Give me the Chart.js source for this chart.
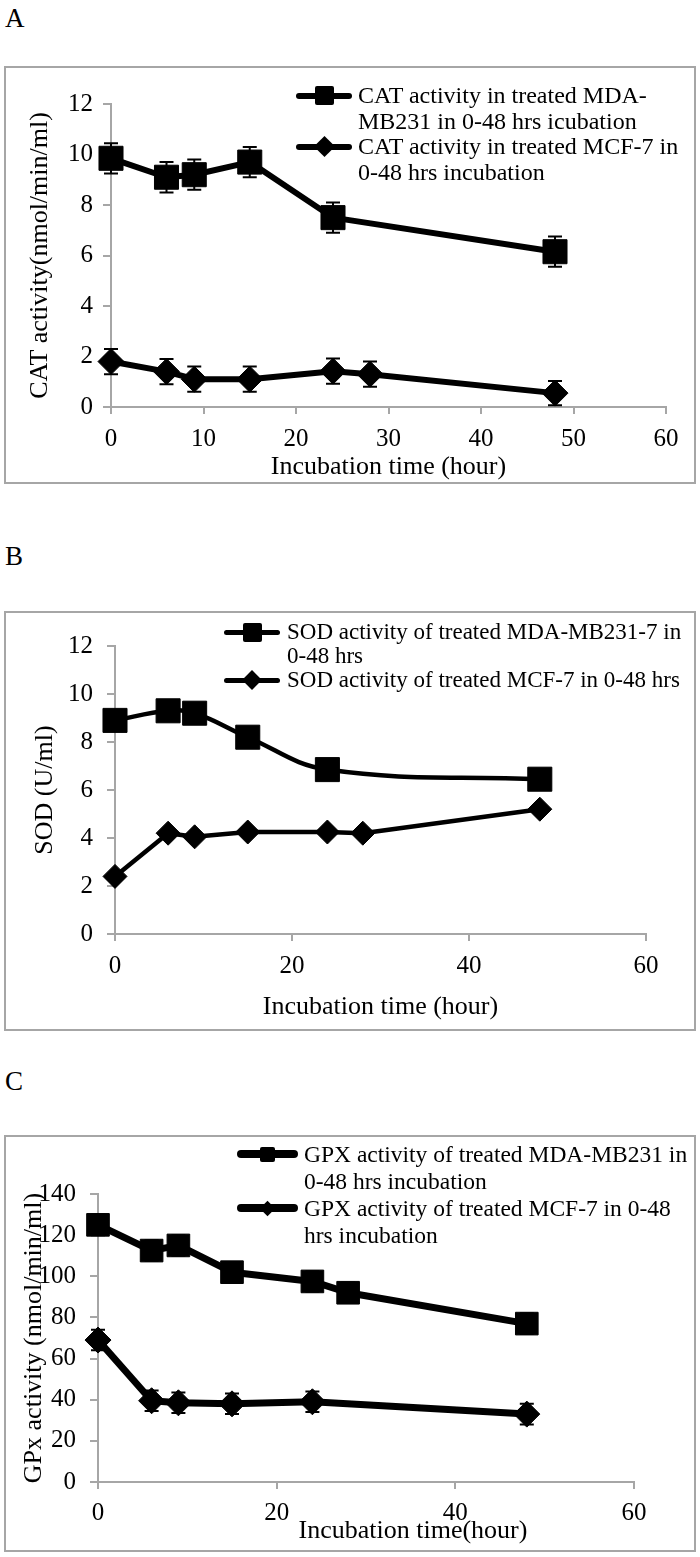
<!DOCTYPE html>
<html>
<head>
<meta charset="utf-8">
<script src="https://cdn.jsdelivr.net/npm/chart.js@4.4.0/dist/chart.umd.min.js"></script>
<style>
body{margin:0;width:700px;height:1557px;position:relative;background:#fff;overflow:hidden;
  font-family:"Liberation Serif","Times New Roman",serif;color:#000}
.letter{position:absolute;left:5px;font-size:27px;line-height:27px}
.panel{position:absolute;left:4px;width:692px;border:2px solid #A6A6A6;box-sizing:border-box}
canvas{position:absolute;left:0}
.txt{position:absolute;white-space:pre}
.mk{position:absolute;background:#000}
</style>
</head>
<body>

<div class="letter" style="top:5px">A</div>
<div class="panel" style="top:66px;height:418px"></div>
<canvas id="chartA" width="700" height="417" style="top:67px"></canvas>

<div class="letter" style="top:543px">B</div>
<div class="panel" style="top:611px;height:420px"></div>
<canvas id="chartB" width="700" height="418" style="top:612px"></canvas>

<div class="letter" style="top:1068px">C</div>
<div class="panel" style="top:1135px;height:417px"></div>
<canvas id="chartC" width="700" height="415" style="top:1136px"></canvas>
<div class="txt" id="xTitleC" style="left:413px;top:1517px;font-size:26px;line-height:26px;transform:translateX(-50%)"></div>

<script>
//data - panel A (CAT)
var catMdaHours = [0, 6, 9, 15, 24, 48];
var catMda = [9.85, 9.1, 9.2, 9.7, 7.5, 6.15];
var catMdaErr = [0.6, 0.6, 0.6, 0.6, 0.6, 0.6];
var catMcfHours = [0, 6, 9, 15, 24, 28, 48];
var catMcf = [1.8, 1.4, 1.1, 1.1, 1.42, 1.3, 0.55];
var catMcfErr = [0.5, 0.5, 0.5, 0.5, 0.5, 0.5, 0.48];
var catNames = ["CAT activity in treated MDA-\nMB231 in 0-48 hrs icubation",
                "CAT activity in treated MCF-7 in\n0-48 hrs incubation"];

//data - panel B (SOD)
var sodMdaHours = [0, 6, 9, 15, 24, 48];
var sodMda = [8.9, 9.3, 9.2, 8.2, 6.85, 6.45];
var sodMcfHours = [0, 6, 9, 15, 24, 28, 48];
var sodMcf = [2.4, 4.2, 4.05, 4.25, 4.25, 4.2, 5.2];
var sodNames = ["SOD activity of treated MDA-MB231-7 in\n0-48 hrs",
                "SOD activity of treated MCF-7 in 0-48 hrs"];

//data - panel C (GPX)
var gpxMdaHours = [0, 6, 9, 15, 24, 28, 48];
var gpxMda = [125, 112.5, 115, 102, 97.5, 92, 77];
var gpxMdaErr = [5, 5, 5, 5, 5, 5, 5];
var gpxMcfHours = [0, 6, 9, 15, 24, 48];
var gpxMcf = [69, 39.5, 38.5, 38, 39, 33];
var gpxMcfErr = [5, 5, 5, 5, 5, 5];
var gpxNames = ["GPX activity of treated MDA-MB231 in\n0-48 hrs incubation",
                "GPX activity of treated MCF-7 in 0-48\nhrs incubation"];

//axis texts
var xTitle = "Incubation time (hour)";
var xTitleC = "Incubation time(hour)";
var yTitleA = "CAT activity(nmol/min/ml)";
var yTitleB = "SOD (U/ml)";
var yTitleC = "GPx activity (nmol/min/ml)";

var serif = '"Liberation Serif","Times New Roman",serif';
var axisGrey = "#A6A6A6";
Chart.defaults.font.family = serif;
Chart.defaults.color = "#000";

//pair hours and values for a linear x axis
function pts( hrs, vals ){
	var out = [];
	for( var i = 0; i < hrs.length; i++ ) out.push( { x: hrs[i], y: vals[i] } );
	return out;
}

//error bars drawn through the chart scales
var errorBars = {
	id: "errorBars",
	afterDatasetsDraw: function( chart ){
		var ctx = chart.ctx, xs = chart.scales.x, ys = chart.scales.y;
		chart.data.datasets.forEach( function( ds ){
			if( !ds.errors ) return;
			ctx.save();
			ctx.strokeStyle = "#000";
			ctx.lineWidth = 2;
			ds.data.forEach( function( p, j ){
				var e = ds.errors[j], px = xs.getPixelForValue( p.x );
				var top = ys.getPixelForValue( p.y + e ), bot = ys.getPixelForValue( p.y - e );
				ctx.beginPath();
				ctx.moveTo( px, top ); ctx.lineTo( px, bot );
				ctx.moveTo( px - 7, top ); ctx.lineTo( px + 7, top );
				ctx.moveTo( px - 7, bot ); ctx.lineTo( px + 7, bot );
				ctx.stroke();
			});
			ctx.restore();
		});
	}
};

function series( data, style, o ){
	return {
		data: data,
		errors: o.errors,
		borderColor: "#000",
		backgroundColor: "#000",
		borderWidth: o.width,
		borderJoinStyle: "round",
		borderCapStyle: "round",
		pointStyle: style,
		pointRadius: o.radius,
		pointBorderWidth: 1,
		tension: o.tension || 0,
		clip: false
	};
}

function makeChart( id, o ){
	return new Chart( document.getElementById( id ), {
		type: "line",
		data: { datasets: o.datasets },
		options: {
			responsive: false,
			animation: false,
			events: [],
			layout: { padding: { left: 0, top: o.padTop, right: o.padRight, bottom: 0 } },
			plugins: { legend: { display: false }, tooltip: { enabled: false } },
			scales: {
				x: {
					type: "linear", min: 0, max: 60,
					ticks: { stepSize: o.xStep, padding: o.xPad, font: { size: 25 }, maxRotation: 0, autoSkip: false },
					grid: { drawOnChartArea: false, tickLength: 7, color: axisGrey, lineWidth: 2 },
					border: { color: axisGrey, width: 2 },
					title: o.xTitle ? { display: true, text: o.xTitle, font: { size: 26, lineHeight: 1 },
						padding: { top: o.xTitlePad, bottom: o.xTitlePad } } : { display: false },
					afterFit: function( s ){ s.height = o.xHeight; }
				},
				y: {
					min: 0, max: o.yMax,
					ticks: { stepSize: o.yStep, padding: o.yPad, font: { size: 25 } },
					grid: { drawOnChartArea: false, tickLength: 8, color: axisGrey, lineWidth: 2 },
					border: { color: axisGrey, width: 2 },
					title: { display: true, text: o.yTitle, font: { size: 26, lineHeight: 1 },
						padding: { top: o.yTitlePad, bottom: o.yTitlePad } },
					afterFit: function( s ){ s.width = o.yWidth; }
				}
			}
		},
		plugins: [ errorBars ]
	});
}

//html legend with line + marker
function addLegend( o ){
	o.names.forEach( function( name, i ){
		var top = o.top + i * 2 * o.lh;
		var t = document.createElement( "div" );
		t.className = "txt";
		t.textContent = name;
		t.style.left = o.textX + "px";
		t.style.top = top + "px";
		t.style.fontSize = o.font + "px";
		t.style.lineHeight = o.lh + "px";
		document.body.appendChild( t );

		var cy = top + o.lh / 2;
		var l = document.createElement( "div" );
		l.className = "mk";
		l.style.left = o.x0 + "px";
		l.style.width = ( o.x1 - o.x0 ) + "px";
		l.style.top = ( cy - o.thick / 2 ) + "px";
		l.style.height = o.thick + "px";
		l.style.borderRadius = ( o.thick / 2 ) + "px";
		document.body.appendChild( l );

		var s = o.sizes[i], m = document.createElement( "div" );
		m.className = "mk";
		m.style.width = s + "px";
		m.style.height = s + "px";
		m.style.left = ( ( o.x0 + o.x1 ) / 2 - s / 2 ) + "px";
		m.style.top = ( cy - s / 2 ) + "px";
		if( i == 1 ) m.style.transform = "rotate(45deg)";
		else m.style.borderRadius = "2px";
		document.body.appendChild( m );
	});
}

//panel A
makeChart( "chartA", {
	datasets: [
		series( pts( catMdaHours, catMda ), "rect", { width: 6, radius: 17, errors: catMdaErr } ),
		series( pts( catMcfHours, catMcf ), "rectRot", { width: 6, radius: 13, errors: catMcfErr } )
	],
	padTop: 37, padRight: 34, xHeight: 77, yWidth: 111,
	xStep: 10, xPad: 10, yMax: 12, yStep: 2, yPad: 10,
	xTitle: xTitle, xTitlePad: 4, yTitle: yTitleA, yTitlePad: 27
});
addLegend( { names: catNames, top: 83, lh: 25.5, font: 24, textX: 358, x0: 296, x1: 352, thick: 6, sizes: [19, 15] } );

//panel B
makeChart( "chartB", {
	datasets: [
		series( pts( sodMdaHours, sodMda ), "rect", { width: 4.5, radius: 17, tension: 0.4 } ),
		series( pts( sodMcfHours, sodMcf ), "rectRot", { width: 4.5, radius: 12 } )
	],
	padTop: 34, padRight: 54, xHeight: 96, yWidth: 115,
	xStep: 20, xPad: 10, yMax: 12, yStep: 2, yPad: 14,
	xTitle: xTitle, xTitlePad: 10, yTitle: yTitleB, yTitlePad: 32
});
addLegend( { names: sodNames, top: 620, lh: 24, font: 23, textX: 287, x0: 224, x1: 280, thick: 5, sizes: [19, 14] } );

//panel C
makeChart( "chartC", {
	datasets: [
		series( pts( gpxMdaHours, gpxMda ), "rect", { width: 7, radius: 16, errors: gpxMdaErr } ),
		series( pts( gpxMcfHours, gpxMcf ), "rectRot", { width: 7, radius: 13, errors: gpxMcfErr } )
	],
	padTop: 58, padRight: 66, xHeight: 69, yWidth: 98,
	xStep: 20, xPad: 9, yMax: 140, yStep: 20, yPad: 14,
	xTitle: null, yTitle: yTitleC, yTitlePad: 21
});
document.getElementById( "xTitleC" ).textContent = xTitleC;
addLegend( { names: gpxNames, top: 1140.5, lh: 27, font: 23.5, textX: 304, x0: 237, x1: 298, thick: 8, sizes: [15, 11] } );
</script>
</body>
</html>
